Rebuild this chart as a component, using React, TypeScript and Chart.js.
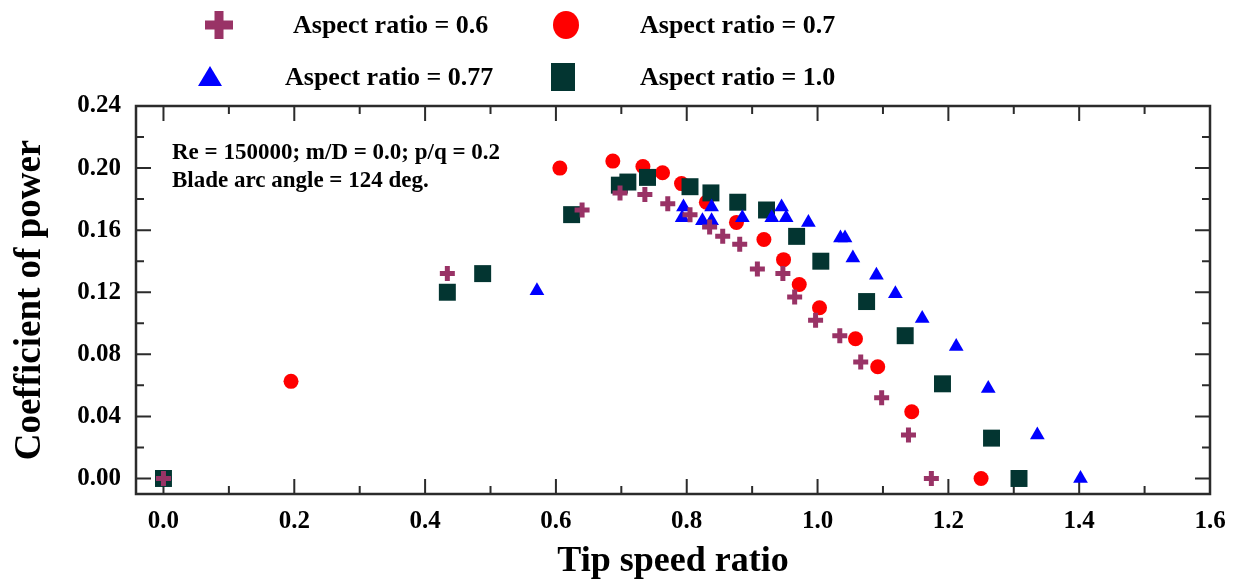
import React, { useEffect, useRef } from "react";
import { Chart, registerables } from "chart.js";

Chart.register(...registerables);

const FONT = '"Liberation Serif", "Times New Roman", Times, serif';

// ---- data ----
const ar06X = [0, 0.434, 0.640, 0.698, 0.736, 0.771, 0.805, 0.835, 0.855, 0.881, 0.908, 0.947, 0.965, 0.997, 1.034, 1.066, 1.098, 1.139, 1.174];
const ar06Y = [0, 0.132, 0.173, 0.184, 0.183, 0.177, 0.170, 0.162, 0.156, 0.151, 0.135, 0.132, 0.117, 0.102, 0.092, 0.075, 0.052, 0.028, 0.000];

const ar07X = [0.195, 0.606, 0.687, 0.733, 0.763, 0.792, 0.830, 0.876, 0.918, 0.948, 0.972, 1.003, 1.058, 1.092, 1.144, 1.250];
const ar07Y = [0.0626, 0.200, 0.2045, 0.201, 0.197, 0.190, 0.178, 0.165, 0.154, 0.141, 0.125, 0.110, 0.090, 0.072, 0.043, 0.000];

const ar077X = [0.571, 0.793, 0.795, 0.824, 0.838, 0.838, 0.885, 0.930, 0.945, 0.952, 0.986, 1.035, 1.042, 1.054, 1.090, 1.119, 1.160, 1.212, 1.261, 1.336, 1.402];
const ar077Y = [0.121, 0.168, 0.175, 0.166, 0.166, 0.175, 0.168, 0.168, 0.175, 0.168, 0.165, 0.155, 0.155, 0.142, 0.131, 0.119, 0.103, 0.085, 0.058, 0.028, 0.000];

const ar10X = [0, 0.434, 0.488, 0.624, 0.697, 0.710, 0.740, 0.805, 0.837, 0.878, 0.922, 0.968, 1.005, 1.075, 1.134, 1.191, 1.266, 1.308];
const ar10Y = [0, 0.120, 0.132, 0.170, 0.189, 0.191, 0.194, 0.188, 0.184, 0.178, 0.173, 0.156, 0.140, 0.114, 0.092, 0.061, 0.026, 0.000];

const seriesLabels = ["Aspect ratio = 0.6", "Aspect ratio = 0.7", "Aspect ratio = 0.77", "Aspect ratio = 1.0"];
const seriesColors = ["#993366", "#ff0000", "#0000ff", "#033531"];

const xTicks = [0, 0.2, 0.4, 0.6, 0.8, 1.0, 1.2, 1.4, 1.6];
const xTickLabels = ["0.0", "0.2", "0.4", "0.6", "0.8", "1.0", "1.2", "1.4", "1.6"];
const xMinorTicks = [0.1, 0.3, 0.5, 0.7, 0.9, 1.1, 1.3, 1.5];
const yTicks = [0, 0.04, 0.08, 0.12, 0.16, 0.20, 0.24];
const yTickLabels = ["0.00", "0.04", "0.08", "0.12", "0.16", "0.20", "0.24"];
const yMinorTicks = [0.02, 0.06, 0.10, 0.14, 0.18, 0.22];

const xTitle = "Tip speed ratio";
const yTitle = "Coefficient of power";
const annotationLines = ["Re = 150000; m/D = 0.0; p/q = 0.2", "Blade arc angle = 124 deg."];

const toPoints = (xs: number[], ys: number[]) => xs.map((x, i) => ({ x, y: ys[i] }));

const framePlugin = {
  id: "frameTicks",
  beforeDatasetsDraw(chart: any) {
    const { ctx, chartArea, scales } = chart;
    const { left, right, top, bottom } = chartArea;
    const xs = scales.x;
    const ys = scales.y;
    ctx.save();
    ctx.strokeStyle = "#2b2b2b";
    ctx.lineWidth = 2;
    ctx.beginPath();
    const major = 15;
    const minor = 8;
    xTicks.forEach((v) => {
      const p = xs.getPixelForValue(v);
      ctx.moveTo(p, bottom); ctx.lineTo(p, bottom - major);
      ctx.moveTo(p, top); ctx.lineTo(p, top + major);
    });
    xMinorTicks.forEach((v) => {
      const p = xs.getPixelForValue(v);
      ctx.moveTo(p, bottom); ctx.lineTo(p, bottom - minor);
      ctx.moveTo(p, top); ctx.lineTo(p, top + minor);
    });
    yTicks.forEach((v) => {
      const p = ys.getPixelForValue(v);
      ctx.moveTo(left, p); ctx.lineTo(left + major, p);
      ctx.moveTo(right, p); ctx.lineTo(right - major, p);
    });
    yMinorTicks.forEach((v) => {
      const p = ys.getPixelForValue(v);
      ctx.moveTo(left, p); ctx.lineTo(left + minor, p);
      ctx.moveTo(right, p); ctx.lineTo(right - minor, p);
    });
    ctx.stroke();
    ctx.lineWidth = 2.5;
    ctx.strokeRect(left, top, right - left, bottom - top);
    ctx.restore();
  },
  afterDraw(chart: any) {
    const { ctx, chartArea } = chart;
    ctx.save();
    // annotation
    ctx.fillStyle = "#000";
    ctx.font = `bold 23px ${FONT}`;
    ctx.textAlign = "left";
    ctx.textBaseline = "middle";
    annotationLines.forEach((t, i) => {
      ctx.fillText(t, chartArea.left + 36, chartArea.top + 47 + i * 28);
    });

    // legend
    const cells = [
      { mx: 219, my: 25, tx: 293, ty: 26 },
      { mx: 566, my: 25, tx: 640, ty: 26 },
      { mx: 210, my: 77, tx: 285, ty: 78 },
      { mx: 563, my: 77, tx: 640, ty: 78 },
    ];
    cells.forEach((c, i) => {
      const col = seriesColors[i];
      ctx.fillStyle = col;
      ctx.strokeStyle = col;
      if (i === 0) {
        ctx.lineWidth = 9;
        ctx.beginPath();
        ctx.moveTo(c.mx - 14, c.my); ctx.lineTo(c.mx + 14, c.my);
        ctx.moveTo(c.mx, c.my - 14); ctx.lineTo(c.mx, c.my + 14);
        ctx.stroke();
      } else if (i === 1) {
        ctx.beginPath();
        ctx.ellipse(c.mx, c.my, 13, 14, 0, 0, Math.PI * 2);
        ctx.fill();
      } else if (i === 2) {
        ctx.beginPath();
        ctx.moveTo(c.mx, c.my - 11);
        ctx.lineTo(c.mx + 12, c.my + 9);
        ctx.lineTo(c.mx - 12, c.my + 9);
        ctx.closePath();
        ctx.fill();
      } else {
        ctx.fillRect(c.mx - 12, c.my - 14, 24, 28);
      }
      ctx.fillStyle = "#000";
      ctx.font = `bold 26px ${FONT}`;
      ctx.textAlign = "left";
      ctx.textBaseline = "middle";
      ctx.fillText(seriesLabels[i], c.tx, c.ty);
    });
    ctx.restore();
  },
};

export default function App() {
  const ref = useRef<HTMLCanvasElement | null>(null);
  useEffect(() => {
    if (!ref.current) return;
    const chart = new Chart(ref.current, {
      type: "scatter",
      data: {
        datasets: [
          {
            label: seriesLabels[0],
            data: toPoints(ar06X, ar06Y),
            pointStyle: "cross",
            pointRadius: 7.5,
            borderWidth: 5,
            borderColor: seriesColors[0],
            backgroundColor: seriesColors[0],
            order: 0,
          },
          {
            label: seriesLabels[1],
            data: toPoints(ar07X, ar07Y),
            pointStyle: "circle",
            pointRadius: 7.5,
            borderWidth: 0,
            borderColor: seriesColors[1],
            backgroundColor: seriesColors[1],
            order: 3,
          },
          {
            label: seriesLabels[2],
            data: toPoints(ar077X, ar077Y),
            pointStyle: "triangle",
            pointRadius: 8.5,
            borderWidth: 0,
            borderColor: seriesColors[2],
            backgroundColor: seriesColors[2],
            order: 1,
          },
          {
            label: seriesLabels[3],
            data: toPoints(ar10X, ar10Y),
            pointStyle: "rect",
            pointRadius: 12,
            borderWidth: 0,
            borderColor: seriesColors[3],
            backgroundColor: seriesColors[3],
            order: 2,
          },
        ],
      },
      options: {
        responsive: false,
        animation: false,
        events: [],
        layout: { padding: { left: 0, right: 38, top: 106, bottom: 0 } },
        plugins: { legend: { display: false }, tooltip: { enabled: false }, title: { display: false } },
        scales: {
          x: {
            type: "linear",
            min: -0.042,
            max: 1.6,
            grid: { display: false, drawTicks: false },
            border: { display: false },
            afterBuildTicks: (s: any) => { s.ticks = xTicks.map((v) => ({ value: v })); },
            afterFit: (s: any) => { s.height = 91; },
            ticks: {
              color: "#000",
              padding: 13,
              maxRotation: 0,
              autoSkip: false,
              font: { family: FONT, size: 25, weight: "bold" },
              callback: (_v: any, i: number) => xTickLabels[i],
            },
            title: {
              display: true,
              text: xTitle,
              color: "#000",
              font: { family: FONT, size: 36, weight: "bold" },
              padding: { top: 0, bottom: 2 },
            },
          },
          y: {
            type: "linear",
            min: -0.01,
            max: 0.24,
            grid: { display: false, drawTicks: false },
            border: { display: false },
            afterBuildTicks: (s: any) => { s.ticks = yTicks.map((v) => ({ value: v })); },
            afterFit: (s: any) => { s.width = 136; },
            ticks: {
              color: "#000",
              padding: 15,
              autoSkip: false,
              font: { family: FONT, size: 25, weight: "bold" },
              callback: (_v: any, i: number) => yTickLabels[i],
            },
            title: {
              display: true,
              text: yTitle,
              color: "#000",
              font: { family: FONT, size: 37, weight: "bold" },
              padding: { top: 8, bottom: 0 },
            },
          },
        },
      },
      plugins: [framePlugin],
    } as any);
    return () => chart.destroy();
  }, []);
  return (
    <div style={{ position: "absolute", left: 0, top: 0, width: 1248, height: 585, background: "#fff" }}>
      <canvas ref={ref} width={1248} height={585} style={{ display: "block", width: 1248, height: 585 }} />
    </div>
  );
}
